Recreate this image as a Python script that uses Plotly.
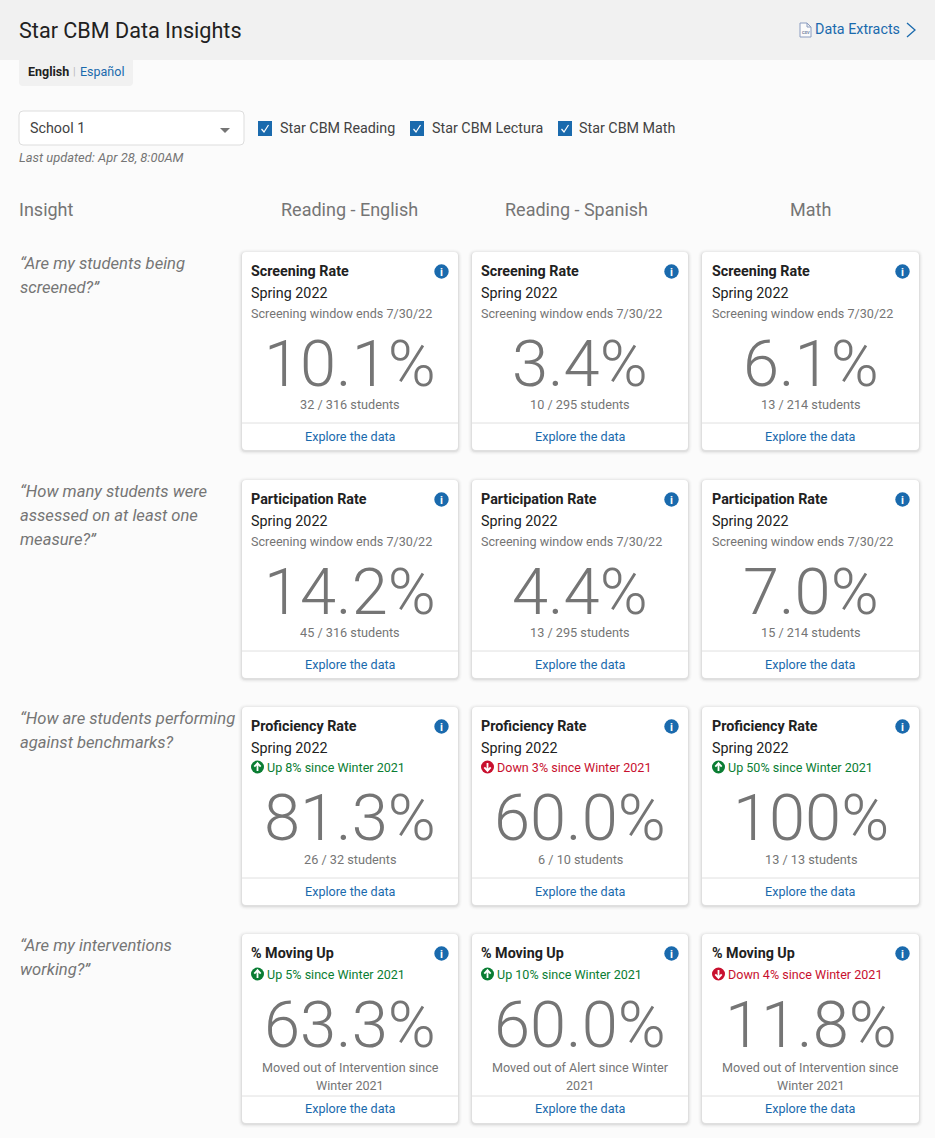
import plotly.graph_objects as go

# Dashboard content
page_title = "Star CBM Data Insights"
columns = ["Reading - English", "Reading - Spanish", "Math"]
checkboxes = ["Star CBM Reading", "Star CBM Lectura", "Star CBM Math"]
questions = [
    ["\u201cAre my students being", "screened?\u201d"],
    ["\u201cHow many students were", "assessed on at least one", "measure?\u201d"],
    ["\u201cHow are students performing", "against benchmarks?"],
    ["\u201cAre my interventions", "working?\u201d"],
]
metrics = ["Screening Rate", "Participation Rate", "Proficiency Rate", "% Moving Up"]
values = [
    ["10.1%", "3.4%", "6.1%"],
    ["14.2%", "4.4%", "7.0%"],
    ["81.3%", "60.0%", "100%"],
    ["63.3%", "60.0%", "11.8%"],
]
counts = [
    ["32 / 316 students", "10 / 295 students", "13 / 214 students"],
    ["45 / 316 students", "13 / 295 students", "15 / 214 students"],
    ["26 / 32 students", "6 / 10 students", "13 / 13 students"],
]
trends = [
    ["Up 8% since Winter 2021", "Down 3% since Winter 2021", "Up 50% since Winter 2021"],
    ["Up 5% since Winter 2021", "Up 10% since Winter 2021", "Down 4% since Winter 2021"],
]
moved = [
    ["Moved out of Intervention since", "Winter 2021"],
    ["Moved out of Alert since Winter", "2021"],
    ["Moved out of Intervention since", "Winter 2021"],
]

# Colours and card layout
BLUE = "#1a6aad"
GRAY = "#757575"
DARK = "#212121"
GREEN = "#0a7d33"
RED = "#c8102e"
col_left = [242, 472, 702]
col_width = 216
row_top = [252, 480, 707, 934]
row_height = [198, 198, 198, 189]

fig = go.Figure()
shapes = []
notes = []


def text(x, y, s, size=14, color=DARK, anchor="left", weight=400, italic=False):
    # left anchored text sits about 1px right of the requested x
    notes.append(dict(
        x=x - 1 if anchor == "left" else x, y=y, text=s, xref="x", yref="y", showarrow=False,
        xanchor=anchor, yanchor="middle", borderpad=0, align=anchor,
        font=dict(family="Roboto", size=size, color=color, weight=weight,
                  style="italic" if italic else "normal"),
    ))


def round_rect(x0, y0, x1, y1, r):
    return (f"M{x0+r},{y0} L{x1-r},{y0} Q{x1},{y0} {x1},{y0+r} L{x1},{y1-r} Q{x1},{y1} {x1-r},{y1} "
            f"L{x0+r},{y1} Q{x0},{y1} {x0},{y1-r} L{x0},{y0+r} Q{x0},{y0} {x0+r},{y0} Z")


def path(d, fill="rgba(0,0,0,0)", line=None, width=1):
    shapes.append(dict(type="path", path=d, xref="x", yref="y", fillcolor=fill,
                       line=dict(color=line or "rgba(0,0,0,0)", width=width if line else 0)))


def rect(x0, y0, x1, y1, fill):
    shapes.append(dict(type="rect", x0=x0, y0=y0, x1=x1, y1=y1, xref="x", yref="y",
                       fillcolor=fill, line=dict(width=0)))


def circle(cx, cy, r, fill):
    shapes.append(dict(type="circle", x0=cx-r, y0=cy-r, x1=cx+r, y1=cy+r, xref="x", yref="y",
                       fillcolor=fill, line=dict(width=0)))


def trend_line(x, y, s):
    up = s.startswith("Up")
    color = GREEN if up else RED
    cx = x + 6.5
    circle(cx, y, 6.5, color)
    if up:
        path(f"M{cx},{y+4} L{cx},{y-3.5} M{cx-3.2},{y-0.3} L{cx},{y-3.8} L{cx+3.2},{y-0.3}", line="white", width=1.8)
    else:
        path(f"M{cx},{y-4} L{cx},{y+3.5} M{cx-3.2},{y+0.3} L{cx},{y+3.8} L{cx+3.2},{y+0.3}", line="white", width=1.8)
    text(x + 16, y, s, size=12.55, color=color)


# Header band and language tab
rect(0, 0, 935, 60, "#f1f1f1")
path(f"M19,60 L133,60 L133,82 Q133,86 129,86 L23,86 Q19,86 19,82 Z", fill="#f1f1f1")
text(19, 30, page_title, size=21.6, color=DARK)
text(28, 71, "English", size=12.5, weight=700)
text(74.5, 71, "|", size=11, color="#bbbbbb", anchor="center")
text(80, 71, "Español", size=12.5, color=BLUE)

# Data Extracts link
path("M800,23 L807,23 L811,27 L811,37 L800,37 Z M807,23 L807,27 L811,27", fill="#fbfbfb", line="#8a9cc0", width=1)
text(805.5, 32, "CSV", size=4, color="#6f7f9f", anchor="center", weight=700)
text(815, 29, "Data Extracts", size=14.3, color=BLUE)
path("M907,23 L915,30 L907,37", line=BLUE, width=1.3)

# Filter row
path(round_rect(19, 111, 244, 145, 4), fill="white", line="#dddddd", width=1)
text(30, 128, "School 1", size=14.3, color="#424242")
path("M220,128 L230,128 L225,133 Z", fill="#757575")
for label, box_x, label_x in zip(checkboxes, [258, 410, 558], [280, 432, 579]):
    rect(box_x, 121, box_x + 14, 136, BLUE)
    path(f"M{box_x+3.5},{129} L{box_x+6},{132} L{box_x+10.5},{125}", line="white", width=1.2)
    text(label_x, 128, label, size=14.3, color="#424242")
text(19, 157, "Last updated: Apr 28, 8:00AM", size=12.9, color=GRAY, italic=True)

# Column headings
text(19, 209, "Insight", size=18, color=GRAY)
for name, cx in zip(columns, [349.5, 576, 810]):
    text(cx, 209, name, size=18, color=GRAY, anchor="center")

# Question text on the left
for lines, top in zip(questions, row_top):
    for i, line in enumerate(lines):
        text(20, top + 11 + i * 24, line, size=16.6, color=GRAY, italic=True)

# Cards
for r, top in enumerate(row_top):
    bottom = top + row_height[r]
    for c, left in enumerate(col_left):
        right = left + col_width + (1 if c == 2 else 0)
        cx = (left + right) / 2
        pad = 10 if c == 2 else 9
        for grow, alpha in [(4, 0.012), (3, 0.018), (2, 0.03), (1, 0.05)]:
            path(round_rect(left - grow, top - grow + 1, right + grow, bottom + grow + 1, 4 + grow),
                 fill=f"rgba(0,0,0,{alpha})")
        path(round_rect(left, top, right, bottom, 4), fill="white")

        text(left + pad, top + 19, metrics[r], size=14.3, weight=700)
        circle(right - 16.5, top + 19.5, 7.2, BLUE)
        text(right - 16.5, top + 20, "i", size=11, color="white", anchor="center", weight=700)

        if r < 3:
            text(left + pad, top + 41, "Spring 2022", size=14.3)
        if r < 2:
            text(left + pad, top + 61, "Screening window ends 7/30/22", size=12.6, color=GRAY)
        elif r == 2:
            trend_line(left + pad, top + 60, trends[0][c])
        else:
            trend_line(left + pad, top + 40, trends[1][c])

        big_y = top + (112 if r < 2 else 111 if r == 2 else 91)
        text(cx, big_y, values[r][c], size=65, color=GRAY, anchor="center", weight=300)

        if r < 3:
            text(cx, top + 152, counts[r][c], size=12.7, color=GRAY, anchor="center")
        else:
            text(cx, top + 133, moved[c][0], size=12.6, color=GRAY, anchor="center")
            text(cx, top + 151, moved[c][1], size=12.6, color=GRAY, anchor="center")

        div_y = bottom - 27
        shapes.append(dict(type="line", x0=left, x1=right, y0=div_y, y1=div_y, xref="x", yref="y",
                           line=dict(color="#e0e0e0", width=1)))
        text(cx, bottom - (15 if r == 3 else 14), "Explore the data", size=12.6, color=BLUE, anchor="center")

fig.update_layout(
    width=935, height=1138, margin=dict(l=0, r=0, t=0, b=0),
    paper_bgcolor="#fbfbfb", plot_bgcolor="#fbfbfb", showlegend=False,
    xaxis=dict(range=[0, 935], visible=False, fixedrange=True),
    yaxis=dict(range=[1138, 0], visible=False, fixedrange=True),
    shapes=shapes, annotations=notes,
)
fig.write_html("out.html", config=dict(displayModeBar=False),
               post_script="document.body.style.margin='0';document.body.style.background='#fbfbfb';")
